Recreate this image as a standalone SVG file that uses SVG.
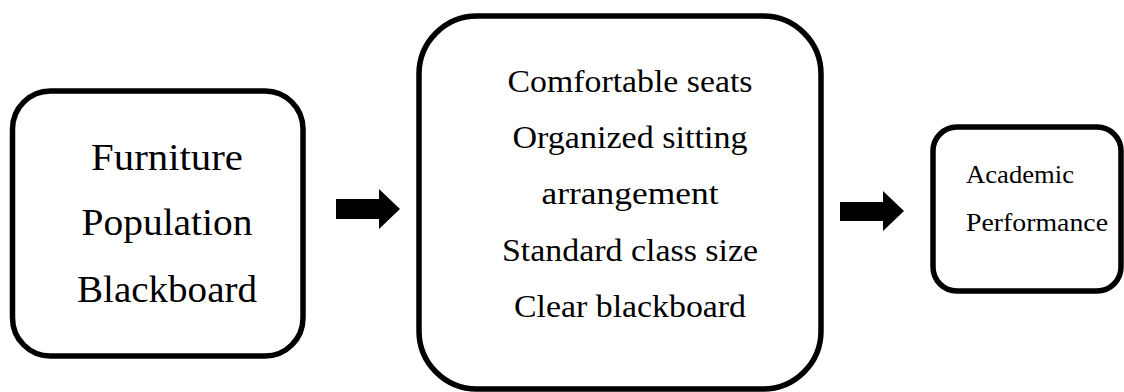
<svg xmlns="http://www.w3.org/2000/svg" width="1124" height="392" viewBox="0 0 1124 392">
<style>
.box{fill:#fff;stroke:#000;stroke-width:5.5}
.t{font-family:"Liberation Serif","Times New Roman",serif;fill:#000}
.big{font-size:38px;text-anchor:middle}
.mid{font-size:32px;text-anchor:middle}
.sm{font-size:26px}
.arr{fill:#000}
</style>
<rect width="1124" height="392" fill="#fff"/>
<g id="node-factors">
<rect class="box" x="12.5" y="91" width="290.5" height="265" rx="38" ry="38"/>
<text class="t big" x="167" y="170" textLength="152" lengthAdjust="spacingAndGlyphs">Furniture</text>
<text class="t big" x="167" y="235" textLength="171" lengthAdjust="spacingAndGlyphs">Population</text>
<text class="t big" x="167" y="302" textLength="180" lengthAdjust="spacingAndGlyphs">Blackboard</text>
</g>
<g id="node-conditions">
<rect class="box" x="419" y="16" width="402" height="373" rx="58" ry="58"/>
<text class="t mid" x="630" y="92" textLength="245" lengthAdjust="spacingAndGlyphs">Comfortable seats</text>
<text class="t mid" x="630" y="148" textLength="235" lengthAdjust="spacingAndGlyphs">Organized sitting</text>
<text class="t mid" x="630" y="204" textLength="177" lengthAdjust="spacingAndGlyphs">arrangement</text>
<text class="t mid" x="630" y="261" textLength="256" lengthAdjust="spacingAndGlyphs">Standard class size</text>
<text class="t mid" x="630" y="317" textLength="232" lengthAdjust="spacingAndGlyphs">Clear blackboard</text>
</g>
<g id="node-performance">
<rect class="box" x="933" y="127" width="188" height="164" rx="24" ry="24"/>
<text class="t sm" x="966" y="183" textLength="108" lengthAdjust="spacingAndGlyphs">Academic</text>
<text class="t sm" x="966" y="231" textLength="142" lengthAdjust="spacingAndGlyphs">Performance</text>
</g>
<g id="connectors">
<polygon class="arr" points="336,199 379,199 379,189 400,209 379,229 379,219 336,219"/>
<polygon class="arr" points="840,202 883,202 883,191 904,211 883,231 883,221 840,221"/>
</g>
</svg>
